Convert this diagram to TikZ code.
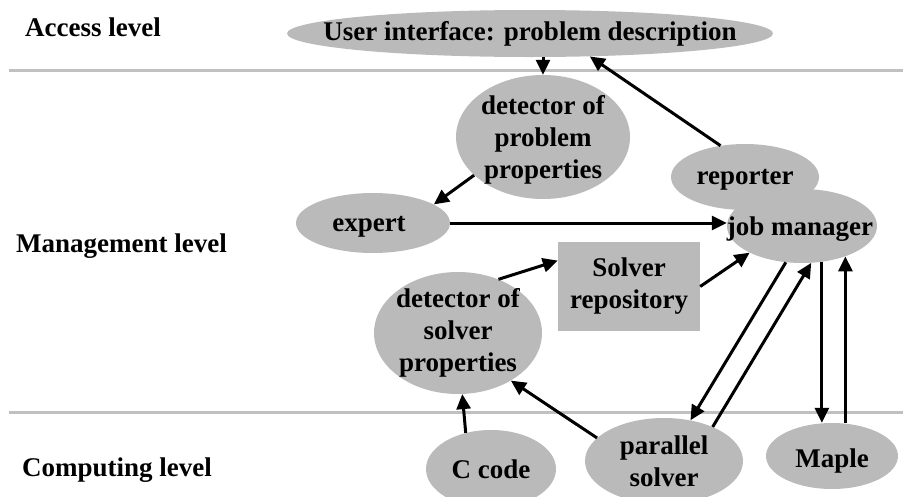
\documentclass[tikz,border=0pt]{standalone}
\usepackage{fontspec}
\setmainfont{Liberation Serif}
\usetikzlibrary{shapes.geometric,arrows.meta}
\definecolor{nodefill}{RGB}{186,186,186}
\definecolor{levelline}{RGB}{192,192,192}
\tikzset{
  txt/.style={font=\bfseries\fontsize{27}{32}\selectfont, text=black},
  oval/.style={ellipse, fill=nodefill, draw=none, inner sep=0pt},
  ovaltext/.style={txt, align=center, inner sep=0pt},
  boxnode/.style={txt, rectangle, fill=nodefill, draw=none, inner sep=0pt, align=center},
  levellabel/.style={txt, anchor=base west, inner sep=0pt},
  levelsep/.style={draw=levelline, line width=3pt},
  arr/.style={draw=black, line width=3pt, -{Triangle[length=15pt,width=14pt]}},
}
\begin{document}
\begin{tikzpicture}[x=1pt,y=-1pt]
\path[use as bounding box, clip] (0,0) rectangle (903,496);
\fill[white] (0,0) rectangle (903,496);

% level separators
\draw[levelsep] (9,70) -- (903,70);
\draw[levelsep] (9,412) -- (903,412);

% level labels
\node[levellabel] (lacc) at (25,36.7) {Access level};
\node[levellabel] (lman) at (16,252) {Management level};
\node[levellabel] (lcomp) at (22,476) {Computing level};

% nodes
\node[oval, minimum width=486pt, minimum height=47pt,
  label={[ovaltext]center:User interface: problem description}] (ui) at (530,33.5) {};
\node[oval, minimum width=174pt, minimum height=124pt,
  label={[ovaltext, yshift=-3pt]center:{detector of\\problem\\properties}}] (dpp) at (543,137) {};
\node[oval, minimum width=148pt, minimum height=66pt,
  label={[ovaltext, yshift=-3pt]center:reporter}] (rep) at (745,177) {};
\node[oval, minimum width=150pt, minimum height=74pt,
  label={[ovaltext, xshift=-2pt, yshift=-3pt]center:job manager}] (jm) at (802,226) {};
\node[oval, minimum width=154pt, minimum height=60pt,
  label={[ovaltext, xshift=-4pt, yshift=-4pt]center:expert}] (expert) at (373,223) {};
\node[boxnode, minimum width=142pt, minimum height=89pt] (repo) at (629,286.5) {Solver\\repository};
\node[oval, minimum width=168pt, minimum height=122pt,
  label={[ovaltext]center:{detector of\\solver\\properties}}] (dsp) at (458,333) {};
\node[oval, minimum width=130pt, minimum height=78pt,
  label={[ovaltext]center:C code}] (ccode) at (491,469) {};
\node[oval, minimum width=158pt, minimum height=86pt,
  label={[ovaltext]center:{parallel\\solver}}] (par) at (664,461) {};
\node[oval, minimum width=132pt, minimum height=66pt,
  label={[ovaltext, yshift=-5pt]center:Maple}] (maple) at (832,456) {};

% connectors
\draw[arr] (ui.south -| dpp.north) -- (dpp.north);
\draw[arr] (rep.128) -- (ui.-21);
\draw[arr] (dpp.209) -- (expert.17);
\draw[arr] (expert.east) -- (expert.east -| jm.west);
\draw[arr] (dsp.53) -- (repo.160);
\draw[arr] (repo.east) -- (jm.207);
\draw[arr] (jm.246) -- (par.57);
\draw[arr] (par.35) -- (jm.-76);
\draw[arr] (jm.-61) -- (jm.-61 |- maple.north);
\draw[arr] (jm.-35 |- maple.north) -- (jm.-35);
\draw[arr] (par.161) -- (dsp.-42);
\draw[arr] (ccode.125) -- (dsp.-86);
\end{tikzpicture}
\end{document}
